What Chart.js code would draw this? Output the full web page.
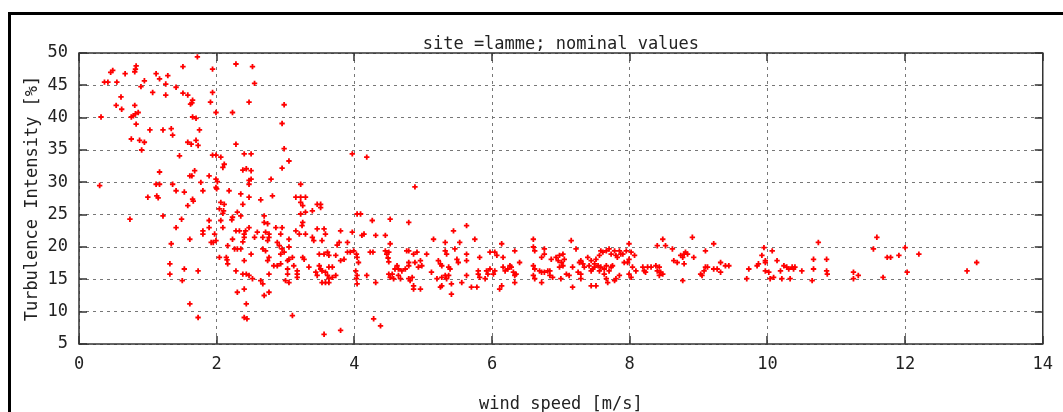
<!DOCTYPE html>
<html>
<head>
<meta charset="utf-8">
<script src="https://cdn.jsdelivr.net/npm/chart.js@4.4.1/dist/chart.umd.min.js"></script>
<style>
  html, body { margin: 0; padding: 0; background: #fff; }
</style>
</head>
<body>
<canvas id="tiChart" width="1063" height="412"></canvas>
<script>
// [wind speed m/s, turbulence intensity %], grouped by speed band
const calmBand = [
  [1.72,49.4],[1.94,47.5],[1.51,47.9],[0.83,48.0],[0.82,47.5],[0.81,47.1],[0.49,47.3],[0.46,47.0],[0.67,46.8],[1.12,46.8],
  [1.29,46.5],[1.17,46.0],[0.95,45.7],[0.37,45.5],[0.42,45.5],[0.55,45.5],[1.26,45.2],[0.90,44.8],[1.41,44.7],[1.07,43.9],
  [1.51,43.8],[1.58,43.5],[1.26,43.5],[1.94,43.9],[0.61,43.2],[1.65,42.7],[1.64,42.3],[1.62,42.1],[1.91,42.4],[0.54,41.9],
  [0.81,41.9],[0.62,41.3],[0.86,40.8],[0.82,40.6],[0.79,40.3],[0.76,40.1],[1.99,40.8],[0.32,40.1],[1.65,40.1],[1.70,39.9],
  [0.83,39.0],[1.03,38.1],[1.22,38.1],[1.34,38.3],[1.36,37.3],[1.75,38.1],[0.76,36.7],[0.88,36.5],[0.95,36.2],[1.58,36.2],
  [1.63,35.9],[1.70,36.5],[1.73,35.7],[0.91,35.0],[1.46,34.1],[1.94,34.2],[1.99,34.2],[1.17,31.6],[1.68,31.8],[1.61,31.0],
  [1.64,31.0],[1.89,31.0],[1.99,30.5],[0.30,29.5],[1.12,29.7],[1.17,29.7],[1.36,29.7],[1.77,30.0],[1.99,29.2],[1.41,28.7],
  [1.53,28.5],[1.80,28.7],[1.00,27.7],[1.13,27.9],[1.15,27.6],[1.65,27.4],[1.66,27.1],[1.58,26.4],[0.74,24.3],[1.22,24.8],
  [1.49,24.3],[1.89,24.1],[1.41,23.0],[1.89,23.0],[1.80,22.5],[1.80,22.0],[1.97,22.0],[1.61,21.2],[1.34,20.5],[1.92,20.7],
  [1.95,20.7],[1.99,21.0],[1.32,17.4],[1.32,15.8],[1.53,16.6],[1.73,16.3],[1.50,14.8],[1.61,11.2],[1.73,9.1]
];

const rampBand = [
  [2.28,48.3],[2.52,47.9],[2.55,45.3],[2.47,42.4],[2.23,40.8],[2.95,39.1],[2.98,42.0],[2.28,35.9],[2.98,35.2],[2.06,33.9],
  [2.40,34.4],[2.50,34.4],[2.11,32.8],[2.09,32.3],[2.38,31.9],[2.43,32.1],[2.50,31.8],[2.95,32.2],[2.01,30.1],[2.79,30.5],
  [2.47,30.3],[2.50,30.5],[2.47,29.7],[2.00,29.0],[2.18,28.7],[2.35,28.2],[2.47,27.7],[2.64,27.3],[2.81,27.9],[2.06,26.9],
  [2.11,26.6],[2.38,26.6],[2.04,25.9],[2.10,25.6],[2.09,25.2],[2.30,25.4],[2.35,24.8],[2.23,24.6],[2.22,24.2],[2.06,24.1],
  [2.69,24.8],[2.69,23.8],[2.74,23.6],[2.09,23.0],[2.47,23.0],[2.86,23.0],[2.95,23.0],[2.28,22.5],[2.33,22.5],[2.42,22.5],
  [2.40,22.0],[2.59,22.3],[2.71,22.3],[2.76,22.0],[2.93,22.0],[2.40,21.5],[2.23,21.2],[2.55,21.5],[2.67,21.5],[2.74,21.0],
  [2.76,21.5],[2.38,20.8],[2.16,20.2],[2.88,20.7],[2.91,20.2],[2.26,19.7],[2.30,19.7],[2.35,19.7],[2.67,19.7],[2.71,19.4],
  [2.95,19.7],[2.98,19.2],[2.93,18.9],[2.50,18.9],[2.04,18.4],[2.14,18.4],[2.15,18.0],[2.76,18.4],[2.74,17.9],[2.16,17.4],
  [2.40,17.9],[2.83,17.1],[2.88,17.1],[2.93,17.4],[2.28,16.3],[2.38,15.8],[2.43,15.8],[2.47,15.6],[2.52,15.1],[2.64,14.8],
  [2.67,14.3],[2.76,15.8],[2.40,13.5],[2.30,13.0],[2.69,12.5],[2.76,13.0],[2.43,11.2],[2.40,9.1],[2.44,8.9]
];

const kneeBand = [
  [3.05,33.3],[3.97,34.4],[4.18,33.9],[3.22,29.7],[3.15,27.7],[3.22,27.7],[3.29,27.7],[3.22,26.9],[3.25,26.4],[3.46,26.6],
  [3.51,26.6],[3.51,26.1],[3.39,25.6],[3.29,25.4],[3.22,25.1],[4.04,25.1],[4.09,25.1],[4.26,24.1],[4.52,24.3],[3.25,23.8],
  [3.24,23.3],[3.46,22.8],[3.15,22.5],[3.20,22.0],[3.29,22.0],[3.56,22.8],[3.58,22.0],[3.80,22.5],[3.97,22.3],[4.11,21.8],
  [4.14,22.0],[4.31,21.8],[4.45,21.8],[3.05,21.2],[3.39,21.5],[3.41,21.0],[3.53,21.0],[3.78,20.7],[3.75,20.3],[3.90,20.7],
  [4.52,20.5],[3.05,20.0],[3.99,19.4],[4.03,18.9],[4.04,18.4],[4.06,17.6],[3.90,19.2],[3.94,19.2],[3.61,19.2],[3.56,18.9],
  [3.63,18.7],[3.49,18.9],[3.73,18.7],[3.85,18.1],[3.80,17.9],[4.23,19.2],[4.27,19.2],[4.45,19.4],[4.47,18.9],[4.50,19.2],
  [4.49,18.3],[4.50,17.7],[3.10,18.4],[3.05,18.1],[3.03,17.9],[3.25,18.4],[3.27,18.1],[3.03,16.6],[3.12,17.1],[3.34,16.9],
  [3.49,17.1],[3.51,16.6],[3.53,16.3],[3.63,16.9],[3.68,16.9],[3.17,16.3],[3.17,15.8],[3.17,15.3],[3.03,15.8],[3.44,16.1],
  [3.46,15.6],[3.58,16.1],[3.61,15.6],[3.63,15.1],[3.68,15.3],[3.73,15.6],[3.53,14.5],[3.58,14.5],[3.63,14.5],[4.02,16.3],
  [4.04,15.6],[4.03,15.1],[4.18,15.6],[4.31,14.5],[4.50,15.8],[4.52,15.3],[4.57,15.1],[4.04,14.3],[3.00,14.8],[3.05,14.5],
  [3.10,9.4],[3.56,6.5],[3.80,7.1],[4.28,8.9],[4.38,7.8],[4.55,15.8]
];

const midBand = [
  [4.59,16.6],[4.62,17.1],[4.64,16.6],[4.69,16.3],[4.76,19.4],[4.88,29.3],[4.79,23.8],[5.63,23.3],[5.44,22.5],[5.15,21.2],
  [5.32,20.7],[5.53,20.7],[5.75,21.2],[6.14,20.5],[6.60,21.2],[5.46,19.7],[4.79,19.4],[4.86,18.9],[4.91,19.2],[5.05,18.9],
  [5.32,19.4],[5.34,18.9],[5.63,18.9],[5.82,18.4],[5.97,19.2],[6.04,19.2],[6.07,18.7],[6.16,18.4],[6.33,19.4],[6.60,20.0],
  [6.62,19.4],[6.76,19.7],[6.76,18.9],[6.72,18.4],[6.86,18.1],[4.79,17.6],[4.74,16.6],[4.79,17.1],[4.88,17.6],[4.96,17.9],
  [4.93,16.9],[4.98,17.1],[5.12,16.1],[5.22,17.9],[5.25,17.4],[5.27,17.1],[5.37,16.9],[5.39,16.6],[5.51,17.6],[5.49,18.1],
  [5.63,17.9],[5.20,15.1],[5.27,15.3],[5.32,15.6],[5.34,15.1],[5.37,15.6],[5.27,14.0],[5.25,13.8],[5.41,14.3],[5.41,12.7],
  [4.79,15.1],[4.81,14.8],[4.84,15.3],[4.86,14.0],[4.86,13.5],[4.96,13.5],[4.64,15.6],[4.67,15.1],[5.56,14.5],[5.63,15.6],
  [5.70,13.8],[5.78,13.8],[5.80,16.3],[5.80,15.8],[5.82,15.3],[5.92,16.3],[5.94,15.8],[5.97,16.6],[6.02,15.8],[6.04,16.3],
  [5.90,15.1],[6.11,13.5],[6.14,14.0],[6.16,16.9],[6.19,16.3],[6.23,16.6],[6.26,17.1],[6.28,16.9],[6.31,16.1],[6.33,15.6],
  [6.35,15.8],[6.33,14.5],[6.40,17.6],[6.60,17.1],[6.62,16.6],[6.60,15.6],[6.62,15.1],[6.69,16.3],[6.72,16.1],[6.76,16.1],
  [6.81,16.3],[6.72,14.5],[6.84,16.3],[6.84,15.6],[6.88,15.3],[6.93,18.4],[6.98,18.7],[6.96,17.9],[6.98,16.9]
];

const highBand = [
  [7.00,15.1],[7.03,18.9],[7.01,17.6],[7.05,18.1],[7.03,17.1],[7.08,15.8],[7.12,15.6],[7.15,21.0],[7.22,19.7],[7.17,16.9],
  [7.25,16.1],[7.17,13.8],[7.27,17.6],[7.29,17.9],[7.32,17.4],[7.34,16.9],[7.29,15.1],[7.29,15.8],[7.39,18.4],[7.41,17.1],
  [7.44,17.9],[7.46,16.6],[7.44,16.3],[7.49,17.4],[7.49,16.9],[7.51,18.1],[7.56,18.7],[7.44,14.0],[7.51,14.0],[7.54,17.1],
  [7.56,16.3],[7.58,16.9],[7.63,16.6],[7.66,17.1],[7.58,19.4],[7.61,19.2],[7.66,19.4],[7.70,19.7],[7.73,18.9],[7.78,19.4],
  [7.80,18.7],[7.82,18.4],[7.87,18.9],[7.85,19.4],[7.90,18.9],[7.95,19.4],[7.63,15.8],[7.66,15.1],[7.70,16.3],[7.73,16.9],
  [7.75,17.1],[7.68,14.5],[7.78,14.8],[7.80,15.1],[7.85,15.6],[7.92,17.6],[7.97,17.6],[7.99,20.5],[8.02,19.2],[7.99,18.1],
  [8.07,18.7],[8.04,16.9],[8.09,16.3],[7.99,15.8],[8.02,15.3],[8.21,16.3],[8.26,16.9],[8.19,16.9],[8.31,16.9],[8.23,16.1],
  [8.40,20.2],[8.48,21.2],[8.52,20.2],[8.38,17.1],[8.43,16.9],[8.40,16.3],[8.45,16.1],[8.48,15.8],[8.43,15.6],[8.62,19.7],
  [8.64,17.9],[8.69,17.6],[8.74,18.7],[8.77,18.4],[8.79,18.9],[8.81,19.2],[8.84,18.9],[8.79,17.4],[8.77,14.8],[8.91,21.5],
  [8.93,18.4],[9.10,19.4],[9.22,20.5],[9.03,15.8],[9.05,15.6],[9.08,16.3],[9.10,16.9],[9.13,16.9],[9.22,16.6],[9.27,16.6],
  [9.32,16.1],[9.32,17.6],[9.39,17.1],[9.44,17.1],[9.70,15.1],[9.73,16.6],[9.85,17.1],[9.87,17.4],[9.92,18.7],[9.95,19.9],
  [9.97,17.9],[9.97,17.6],[9.97,16.3],[10.02,16.1],[10.04,15.1],[10.07,19.4],[10.09,15.3],[10.14,17.9],[10.19,16.3],[10.21,15.1],
  [10.24,17.1],[10.28,16.9],[10.31,16.6],[10.36,16.9],[10.38,16.6],[10.40,16.9],[10.33,15.1],[10.50,16.3],[10.65,14.8],[10.67,18.1],
  [10.67,16.6],[10.74,20.7],[10.86,18.1],[10.86,16.3],[10.87,15.8],[11.25,16.1],[11.25,15.1],[11.32,15.6],[11.54,19.7],[11.59,21.5],
  [11.68,15.3],[11.74,18.4],[11.79,18.4],[11.91,18.7],[12.00,19.9],[12.03,16.1],[12.20,18.9],[12.90,16.3],[13.04,17.6]
];

const chartTitle = 'site =lamme; nominal values';
const xTitle = 'wind speed [m/s]';
const yTitle = 'Turbulence Intensity [%]';
const fontFamily = '"DejaVu Sans Mono", "Liberation Mono", monospace';

const points = [...calmBand, ...rampBand, ...kneeBand, ...midBand, ...highBand]
  .map(([x, y]) => ({ x, y }));

// gnuplot-like decorations: outer frame, inward ticks on all sides, titles
const gnuplotLook = {
  id: 'gnuplotLook',
  beforeDraw(chart) {
    const ctx = chart.ctx;
    ctx.save();
    ctx.fillStyle = '#000';
    ctx.fillRect(8, 12, 3, chart.height - 12);
    ctx.fillRect(8, 12, chart.width - 8, 3);
    ctx.restore();
  },
  afterDatasetsDraw(chart) {
    const { ctx, chartArea: a, scales: { x, y } } = chart;
    ctx.save();
    ctx.strokeStyle = '#333';
    ctx.lineWidth = 1.5;
    ctx.beginPath();
    x.ticks.forEach(t => {
      const px = Math.round(x.getPixelForValue(t.value));
      ctx.moveTo(px, a.bottom); ctx.lineTo(px, a.bottom - 8);
      ctx.moveTo(px, a.top); ctx.lineTo(px, a.top + 8);
    });
    y.ticks.forEach(t => {
      const py = Math.round(y.getPixelForValue(t.value));
      ctx.moveTo(a.left, py); ctx.lineTo(a.left + 8, py);
      ctx.moveTo(a.right, py); ctx.lineTo(a.right - 8, py);
    });
    ctx.stroke();
    ctx.strokeRect(a.left, a.top, a.right - a.left, a.bottom - a.top);

    ctx.fillStyle = '#222';
    ctx.font = '17px ' + fontFamily;
    ctx.textAlign = 'center';
    ctx.textBaseline = 'middle';
    const cx = (a.left + a.right) / 2;
    ctx.fillText(chartTitle, cx, 45);
    ctx.fillText(xTitle, cx, 405);
    ctx.translate(33, (a.top + a.bottom) / 2);
    ctx.rotate(-Math.PI / 2);
    ctx.fillText(yTitle, 0, 0);
    ctx.restore();
  }
};

new Chart(document.getElementById('tiChart'), {
  type: 'scatter',
  data: {
    datasets: [{
      data: points,
      pointStyle: 'cross',
      radius: 2.7,
      borderWidth: 1.8,
      borderColor: '#ff0000',
      backgroundColor: '#ff0000'
    }]
  },
  options: {
    responsive: false,
    devicePixelRatio: 1,
    animation: false,
    layout: { padding: { top: 53, right: 16, bottom: 0, left: 0 } },
    plugins: { legend: { display: false }, tooltip: { enabled: false } },
    scales: {
      x: {
        type: 'linear',
        min: 0, max: 14,
        afterFit: s => { s.height = 68; },
        ticks: { stepSize: 2, padding: 10, color: '#222', font: { family: fontFamily, size: 17 } },
        grid: { color: '#777', lineWidth: 1, drawTicks: false },
        border: { display: false, dash: [3, 4] }
      },
      y: {
        min: 5, max: 50,
        afterFit: s => { s.width = 79; },
        ticks: { stepSize: 5, padding: 11, color: '#222', font: { family: fontFamily, size: 17 } },
        grid: { color: '#777', lineWidth: 1, drawTicks: false },
        border: { display: false, dash: [3, 4] }
      }
    }
  },
  plugins: [gnuplotLook]
});
</script>
</body>
</html>
